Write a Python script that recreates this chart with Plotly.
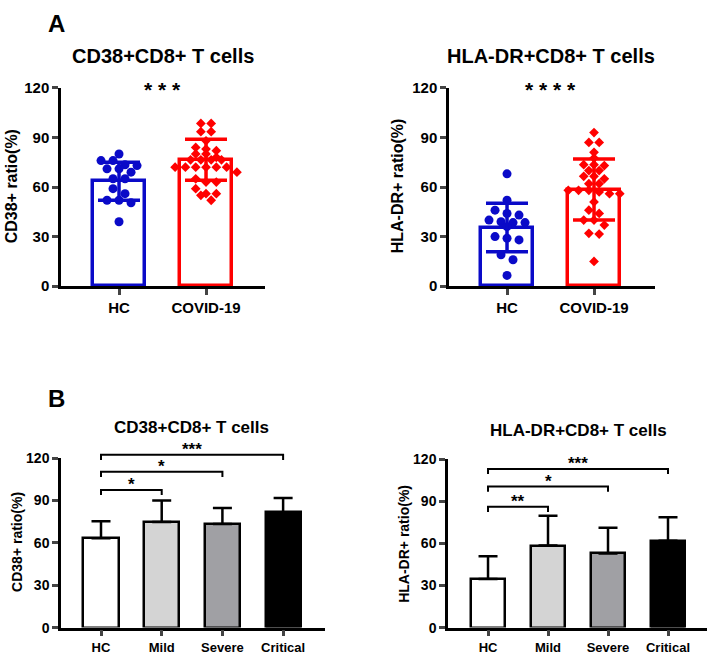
import plotly.graph_objects as go

W, H = 711, 659
FONT = "Liberation Sans"

# ---------------- data ----------------
groups_a = ["HC", "COVID-19"]
cd38_hc = [80, 76, 76, 73.5, 73, 71, 71, 69, 65, 65, 59, 56, 52, 52, 50.5, 39]
cd38_covid = [98.5, 98.5, 93.5, 93.5, 88, 84, 83, 82, 80, 80, 78, 76.5, 76.5, 76.5,
              76.5, 72, 72, 72, 72, 72, 72, 69, 65, 63, 63, 59, 56, 56, 55, 52]
cd38_mean_a = [63.5, 76.5]
cd38_sd_a = [11.5, 12.4]

hla_hc = [68, 52, 46, 44, 43, 40, 39, 38.5, 38.5, 36, 30, 29, 28, 19, 16, 6.5]
hla_covid = [93, 87, 87, 81, 77.5, 73.5, 73.5, 73, 70, 70, 66.5, 66.5, 65, 62, 62,
             58, 58, 58, 57, 56, 56, 51, 46, 44, 40, 40, 37, 32, 31.5, 15]
hla_mean_a = [35.5, 58.5]
hla_sd_a = [14.7, 18.4]

groups_b = ["HC", "Mild", "Severe", "Critical"]
cd38_mean_b = [63.3, 74.8, 73.4, 81.7]
cd38_sd_b = [12.0, 15.2, 11.3, 10.1]
hla_mean_b = [34.6, 58.4, 52.8, 61.8]
hla_sd_b = [16.2, 21.2, 18.3, 16.7]

# significance: (group i, group j, bracket level, label)
sig_cd38_b = [(0, 1, 97.5, "*"), (0, 2, 110.4, "*"), (0, 3, 122.3, "***")]
sig_hla_b = [(0, 1, 86.0, "**"), (0, 2, 100.4, "*"), (0, 3, 113.0, "***")]
sig_a_cd38 = "***"
sig_a_hla = "****"
sig_a_level = 122

yticks = [0, 30, 60, 90, 120]

# ---------------- layout helpers ----------------
def xdom(p0, p1):
    return [p0 / W, p1 / W]

def ydom(ptop, pbot):
    return [1 - pbot / H, 1 - ptop / H]

panels = {
    1: dict(xd=(61, 265), yd=(81, 284.5), xr=(-0.667, 1.678)),
    2: dict(xd=(449, 655), yd=(81, 284.5), xr=(-0.667, 1.701)),
    3: dict(xd=(61, 325), yd=(461, 635), xr=(-0.659, 3.69)),
    4: dict(xd=(448, 707), yd=(462, 635), xr=(-0.667, 3.65)),
}

def px_per(p):
    d = panels[p]
    pxx = (d["xd"][1] - d["xd"][0]) / (d["xr"][1] - d["xr"][0])
    pxy = (d["yd"][1] - d["yd"][0]) / 120.0
    return pxx, pxy

def val_py(p, v):
    d = panels[p]
    return d["yd"][1] - v * px_per(p)[1]

def cat_px(p, c):
    d = panels[p]
    return d["xd"][0] + (c - d["xr"][0]) * px_per(p)[0]

def rows_scatter(values, step_px, row_px, pxx, pxy):
    """GraphPad-like scatter: group values into rows, centre each row."""
    order = sorted(range(len(values)), key=lambda i: -values[i])
    rowh = row_px / pxy
    rows, cur, top = [], [], None
    for i in order:
        if top is None or top - values[i] < rowh:
            if top is None:
                top = values[i]
            cur.append(i)
        else:
            rows.append(cur)
            cur, top = [i], values[i]
    if cur:
        rows.append(cur)
    offs = [0.0] * len(values)
    for r in rows:
        n = len(r)
        for k, i in enumerate(r):
            offs[i] = (k - (n - 1) / 2) * step_px / pxx
    return offs

fig = go.Figure()

BLUE = "#0a0ac8"
RED = "#ff0000"

def top_panel(p, hc, cov, means, sds):
    xa = "x" if p == 1 else f"x{p}"
    ya = "y" if p == 1 else f"y{p}"
    pxx, pxy = px_per(p)
    fig.add_trace(go.Bar(x=[0, 1], y=means, width=0.6, xaxis=xa, yaxis=ya,
                         marker=dict(color="white", line=dict(color=[BLUE, RED], width=3.5)),
                         showlegend=False))
    o1 = rows_scatter(hc, 12.0, 6.6, pxx, pxy)
    fig.add_trace(go.Scatter(x=[0 + o for o in o1], y=hc, mode="markers", xaxis=xa, yaxis=ya,
                             marker=dict(color=BLUE, size=9, symbol="circle"),
                             showlegend=False, cliponaxis=False))
    o2 = rows_scatter(cov, 10.3, 5.6, pxx, pxy)
    fig.add_trace(go.Scatter(x=[1 + o for o in o2], y=cov, mode="markers", xaxis=xa, yaxis=ya,
                             marker=dict(color=RED, size=7.5, symbol="diamond"),
                             showlegend=False, cliponaxis=False))
    for i, col in enumerate([BLUE, RED]):
        fig.add_trace(go.Scatter(x=[i], y=[means[i]], mode="markers", xaxis=xa, yaxis=ya,
                                 marker=dict(size=1, opacity=0),
                                 error_y=dict(type="data", array=[sds[i]], color=col,
                                              thickness=3.5, width=21),
                                 showlegend=False))

def pa(text, x, y, size, angle=0):
    fig.add_annotation(text=text, x=x / W, y=1 - y / H, xref="paper", yref="paper",
                       showarrow=False, textangle=angle, xanchor="center", yanchor="middle",
                       font=dict(family=FONT, size=size, color="black", weight="bold"))

def bottom_panel(p, means, sds, sigs):
    xa = f"x{p}"
    ya = f"y{p}"
    fig.add_trace(go.Bar(x=list(range(len(means))), y=means, width=0.58, xaxis=xa, yaxis=ya,
                         marker=dict(color=["#ffffff", "#d4d4d4", "#a0a0a4", "#000000"],
                                     line=dict(color="black", width=2.5)),
                         error_y=dict(type="data", symmetric=False, array=sds,
                                      arrayminus=[0] * len(sds), color="black",
                                      thickness=2.5, width=9.5),
                         showlegend=False))
    for (i, j, lvl, lab) in sigs:
        x0, x1 = cat_px(p, i) / W, cat_px(p, j) / W
        ytop = 1 - val_py(p, lvl) / H
        ybot = 1 - val_py(p, lvl - 3.7) / H
        fig.add_shape(type="path", xref="paper", yref="paper",
                      path=f"M{x0},{ybot} L{x0},{ytop} L{x1},{ytop} L{x1},{ybot}",
                      line=dict(color="black", width=2))
        s = 17
        pa(lab, cat_px(p, (i + j) / 2), val_py(p, lvl) - 9.5 + 0.23 * s, s)

top_panel(1, cd38_hc, cd38_covid, cd38_mean_a, cd38_sd_a)
top_panel(2, hla_hc, hla_covid, hla_mean_a, hla_sd_a)
bottom_panel(3, cd38_mean_b, cd38_sd_b, sig_cd38_b)
bottom_panel(4, hla_mean_b, hla_sd_b, sig_hla_b)

layout = dict(width=W, height=H, margin=dict(l=0, r=0, t=0, b=0),
              paper_bgcolor="white", plot_bgcolor="white", bargap=0,
              font=dict(family=FONT, color="black"))

for p, d in panels.items():
    sx = "" if p == 1 else str(p)
    big = p <= 2
    tfy = dict(family=FONT, size=15 if big else 14, color="black", weight="bold")
    tfx = dict(family=FONT, size=15 if big else 13, color="black", weight="bold")
    layout[f"xaxis{sx}"] = dict(
        domain=xdom(*d["xd"]), range=list(d["xr"]), anchor=f"y{sx}",
        tickvals=list(range(2 if big else 4)), ticktext=groups_a if big else groups_b,
        ticks="outside", ticklen=6, tickwidth=2.5, showline=True, linewidth=2.5,
        linecolor="black", showgrid=False, zeroline=False, tickfont=tfx, fixedrange=True)
    layout[f"yaxis{sx}"] = dict(
        domain=ydom(*d["yd"]), range=[0, 120], anchor=f"x{sx}",
        tickvals=yticks, ticks="outside", ticklen=6, tickwidth=2.5, showline=True,
        linewidth=2.5, linecolor="black", showgrid=False, zeroline=False, tickfont=tfy,
        fixedrange=True)

fig.update_layout(**layout)

pa("A", 56, 15, 24)
pa("B", 56, 400, 24)
pa("CD38+CD8+ T cells", 163, 48, 20)
pa("HLA-DR+CD8+ T cells", 551, 48, 20)
pa("CD38+CD8+ T cells", 192, 430, 17)
pa("HLA-DR+CD8+ T cells", 578, 433, 17)
pa("CD38+ ratio(%)", 11, 182, 16, -90)
pa("HLA-DR+ ratio(%)", 397, 182, 16, -90)
pa("CD38+ ratio(%)", 17, 547, 14, -90)
pa("HLA-DR+ ratio(%)", 404, 549, 14, -90)

s_top = 21
pa(" ".join(sig_a_cd38), cat_px(1, 0.5), val_py(1, sig_a_level) + 0.23 * s_top, s_top)
pa(" ".join(sig_a_hla), cat_px(2, 0.5), val_py(2, sig_a_level) + 0.23 * s_top, s_top)

fig.write_html("out.html", config={"displayModeBar": False},
               post_script="document.body.style.margin='0';document.body.style.overflow='hidden';")
